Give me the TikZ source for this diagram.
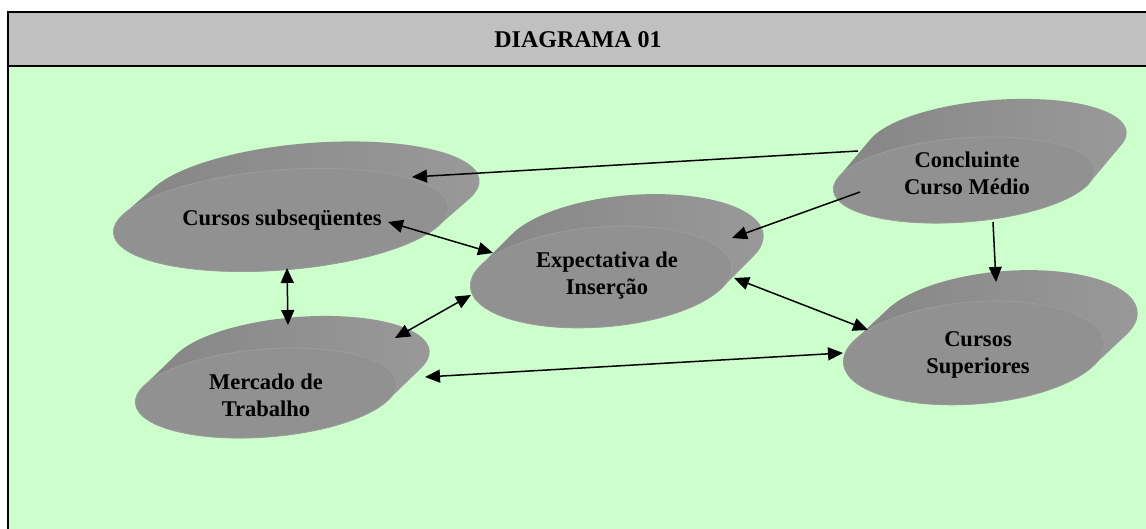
\documentclass[tikz,border=0pt]{standalone}
\usepackage{fontspec}
\setmainfont{Liberation Serif}
\usetikzlibrary{arrows.meta,calc}

\definecolor{bodygreen}{HTML}{CCFFCC}
\definecolor{headgray}{HTML}{C0C0C0}
\definecolor{facegray}{HTML}{919191}
\definecolor{rimgray}{HTML}{9C9C9C}
\definecolor{sideL}{HTML}{848484}
\definecolor{sideM}{HTML}{737373}
\definecolor{sideR}{HTML}{9A9A9A}

\tikzset{
  txt/.style={font=\fontsize{22.5}{27}\selectfont\bfseries, align=center, inner sep=0pt},
  arr/.style={line width=1.5pt, -{Triangle[length=15pt,width=13pt]}},
  darr/.style={line width=1.5pt, {Triangle[length=15pt,width=13pt]}-{Triangle[length=15pt,width=13pt]}},
}

% \disc{x}{y}{a}{b}{dx}{dy}
\newcommand{\disc}[6]{%
  \pgfmathsetmacro\dvx{(#5)*cos(4.5)+(#6)*sin(4.5)}
  \pgfmathsetmacro\dvy{-(#5)*sin(4.5)+(#6)*cos(4.5)}
  \pgfmathsetmacro\dT{atan2(-(#4)*\dvx,(#3)*\dvy)}
  \begin{scope}[shift={(#1,#2)}, rotate=4.5]
    \shade[left color=sideL, middle color=sideM, right color=sideR]
      ({#3*cos(\dT)},{#4*sin(\dT)}) -- ++(\dvx,\dvy)
      arc[start angle=\dT, end angle=\dT+180, x radius=#3, y radius=#4]
      -- ++(-\dvx,-\dvy)
      arc[start angle=\dT+180, end angle=\dT+360, x radius=#3, y radius=#4] -- cycle;
    \fill[facegray, draw=rimgray, line width=0.8pt] (0,0) ellipse [x radius=#3, y radius=#4];
  \end{scope}}

\begin{document}
\begin{tikzpicture}[x=1pt, y=1pt]
  \useasboundingbox (0,0) rectangle (1146,529);
  \fill[white] (0,0) rectangle (1146,529);
  \fill[bodygreen] (8,-10) rectangle (1160,463);
  \fill[headgray] (8,463) rectangle (1160,517);
  \draw[line width=1.8pt] (8,-10) -- (8,517) -- (1160,517);
  \draw[line width=1.8pt] (8,463) -- (1160,463);
  \node[font=\fontsize{24}{28}\selectfont\bfseries] (title) at (578,489) {DIAGRAMA 01};

  \disc{281}{309}{168}{50}{31}{27}
  \disc{601}{252}{131}{50}{32}{32}
  \disc{964}{349}{131}{42}{32}{38}
  \disc{266}{136}{131}{44}{33}{32}
  \disc{974}{176}{131}{51}{33}{31}

  \node[txt] (sub) at (282,309) {Cursos subseqüentes};
  \node[txt] (exp) at (607,253) {Expectativa de\\Inserção};
  \node[txt] (conc) at (967,356) {Concluinte\\Curso Médio};
  \node[txt] (merc) at (266,134) {Mercado de\\Trabalho};
  \node[txt] (sup) at (978,174) {Cursos\\Superiores};

  \draw[arr] ($(conc)+(-109,22)$) -- ($(sub)+(130,43)$);
  \draw[arr] ($(conc)+(-107,-19)$) -- ($(exp)+(125,38)$);
  \draw[arr] ($(conc)+(26,-49)$) -- ($(sup)+(18,73)$);
  \draw[darr] ($(sub)+(106,-2)$) -- ($(exp)+(-114,23)$);
  \draw[darr] ($(sub)+(5,-48)$) -- ($(merc)+(22,70)$);
  \draw[darr] ($(merc)+(129,57)$) -- ($(exp)+(-136,-19)$);
  \draw[darr] ($(exp)+(127,-2)$) -- ($(sup)+(-110,25)$);
  \draw[darr] ($(merc)+(159,18)$) -- ($(sup)+(-135,2)$);
\end{tikzpicture}
\end{document}
